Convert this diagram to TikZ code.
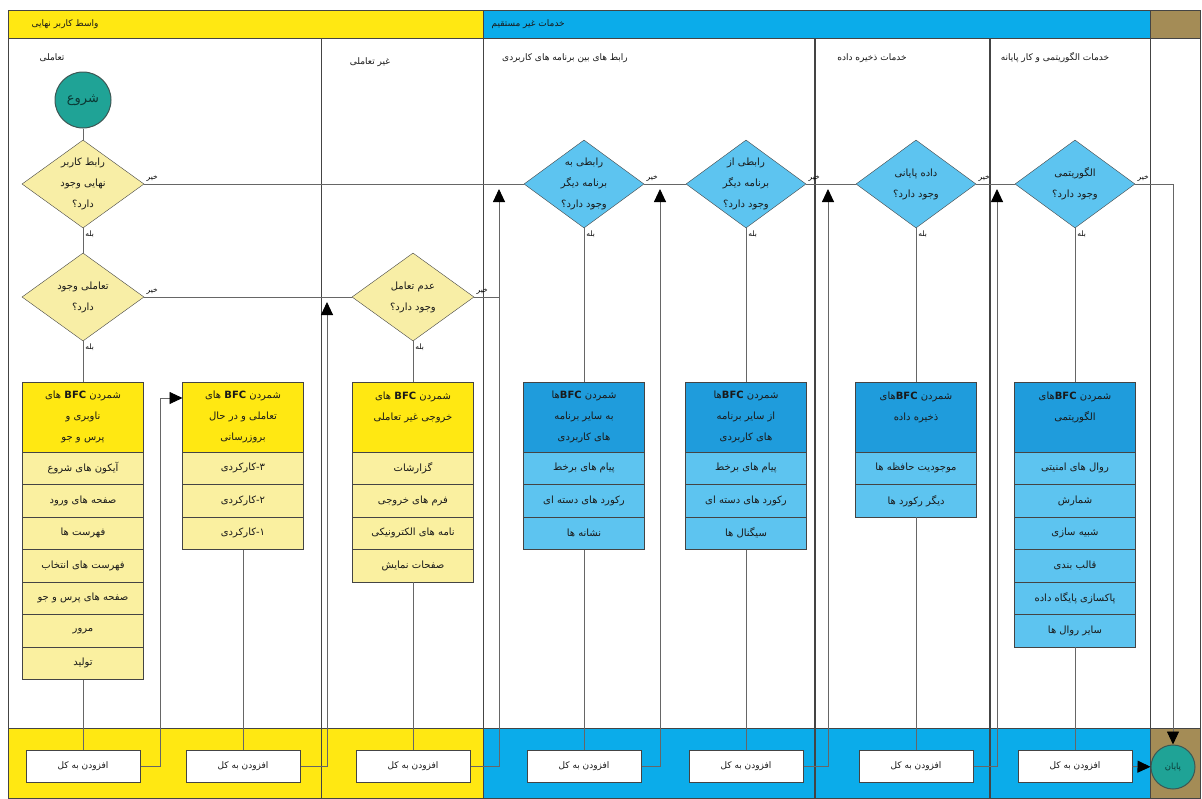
\documentclass[tikz,border=0pt]{standalone}
\usepackage{fontspec}
\newfontfamily\farsi[Script=Arabic]{DejaVu Sans}
\TeXXeTstate=1
\newcommand{\fars}[1]{\beginR #1\endR}
\newcommand{\bfc}{\beginL\textbf{BFC}\endL}
\usetikzlibrary{arrows.meta,shapes.geometric,positioning}
\definecolor{jaune}{HTML}{FFE812}
\definecolor{jaunepale}{HTML}{FAF0A0}
\definecolor{jaunelos}{HTML}{F8EEA6}
\definecolor{bleu}{HTML}{0BACEA}
\definecolor{bleutete}{HTML}{1F9CDC}
\definecolor{bleupale}{HTML}{5DC4F0}
\definecolor{brun}{HTML}{A48C56}
\definecolor{sarcelle}{HTML}{1FA396}
\definecolor{trait}{HTML}{666666}
\definecolor{bord}{HTML}{444444}

\begin{document}
\begin{tikzpicture}[x=1pt,y=-1pt]
\tikzset{lien/.style={draw=trait, line width=0.9pt},
  fleche/.style={lien, -{Triangle[length=13pt,width=12pt,color=black]}},
  cadre/.style={draw=bord, line width=1pt},
  txt/.style={align=center, text=black!90, font=\farsi\fontsize{10}{21}\selectfont},
  titre/.style={text=black!90, font=\farsi\fontsize{9}{10}\selectfont},
  losangeJ/.style={diamond, draw=bord, fill=jaunelos, minimum width=122pt, minimum height=88pt, inner sep=0},
  losangeB/.style={diamond, draw=bord, fill=bleupale, minimum width=120pt, minimum height=88pt, inner sep=0},
  teteJ/.style={txt, draw=bord, fill=jaune, minimum width=121pt, minimum height=70pt, inner sep=0, outer sep=0},
  caseJ/.style={txt, draw=bord, fill=jaunepale, minimum width=121pt, minimum height=32.5pt, inner sep=0, outer sep=0},
  teteB/.style={txt, draw=bord, fill=bleutete, minimum width=121pt, minimum height=70pt, inner sep=0, outer sep=0},
  caseB/.style={txt, draw=bord, fill=bleupale, minimum width=121pt, minimum height=32.5pt, inner sep=0, outer sep=0},
  ajout/.style={txt, draw=bord, line width=1pt, fill=white, minimum width=114pt, minimum height=32pt, inner sep=0, font=\farsi\fontsize{9}{10}\selectfont},
  rond/.style={circle, draw=bord!80!sarcelle, line width=1pt, fill=sarcelle, text=black!65!sarcelle, font=\farsi\fontsize{13}{14}\selectfont, inner sep=0},
  oui/.style={at start, anchor=north west, inner sep=2pt, font=\farsi\fontsize{7.5}{8}\selectfont},
  non/.style={at start, anchor=south west, inner sep=2pt, font=\farsi\fontsize{7.5}{8}\selectfont}}
\useasboundingbox (0,0) rectangle (1202,798);
\fill[jaune] (8,10) rectangle (483,38);
\fill[bleu] (483,10) rectangle (1150,38);
\fill[brun] (1150,10) rectangle (1200,38);
\fill[jaune] (8,728) rectangle (483,798);
\fill[bleu] (483,728) rectangle (1150,798);
\fill[brun] (1150,728) rectangle (1200,798);
\draw[cadre] (8,10) rectangle (1200,798);
\draw[cadre] (8,38) -- (1200,38);
\draw[cadre] (8,728) -- (1200,728);
\draw[cadre] (321,38) -- (321,798);
\draw[cadre] (483,10) -- (483,798);
\draw[cadre, line width=1.4pt] (815,38) -- (815,798);
\draw[cadre, line width=1.4pt] (990,38) -- (990,798);
\draw[cadre] (1150,10) -- (1150,798);

\node[titre, anchor=west] (E1) at (28,24) {\fars{واسط کاربر نهایی}};
\node[titre, anchor=west] (E2) at (488,24) {\fars{خدمات غیر مستقیم}};
\node[titre] (C1) at (52,58) {\fars{تعاملی}};
\node[titre] (C2) at (370,62) {\fars{غیر تعاملی}};
\node[titre] (C3) at (565,58) {\fars{رابط های بین برنامه های کاربردی}};
\node[titre] (C4) at (872,58) {\fars{خدمات ذخیره داده}};
\node[titre] (C5) at (1055,58) {\fars{خدمات الگوریتمی و کار پایانه}};

\node[rond, minimum size=56pt] (Deb) at (83,100) {\fars{شروع}};
\node[rond, minimum size=44pt, font=\farsi\fontsize{8.5}{9}\selectfont] (Fin) at (1173,767) {\fars{پایان}};

\node[losangeJ] (D1) at (83,184) {};
\node[txt] (T1) at (D1) {\fars{رابط کاربر}\\\fars{نهایی وجود}\\\fars{دارد؟}};
\node[losangeJ] (D2) at (83,297) {};
\node[txt] (T2) at (D2) {\fars{تعاملی وجود}\\\fars{دارد؟}};
\node[losangeJ] (D3) at (413,297) {};
\node[txt] (T3) at (D3) {\fars{عدم تعامل}\\\fars{وجود دارد؟}};
\node[losangeB] (D4) at (584,184) {};
\node[txt] (T4) at (D4) {\fars{رابطی به}\\\fars{برنامه دیگر}\\\fars{وجود دارد؟}};
\node[losangeB] (D5) at (746,184) {};
\node[txt] (T5) at (D5) {\fars{رابطی از}\\\fars{برنامه دیگر}\\\fars{وجود دارد؟}};
\node[losangeB] (D6) at (916,184) {};
\node[txt] (T6) at (D6) {\fars{داده پایانی}\\\fars{وجود دارد؟}};
\node[losangeB] (D7) at (1075,184) {};
\node[txt] (T7) at (D7) {\fars{الگوریتمی}\\\fars{وجود دارد؟}};

\node[teteJ] (H1) at (83,417) {\fars{شمردن \bfc{} های}\\\fars{ناوبری و}\\\fars{پرس و جو}};
\node[caseJ, below=0pt of H1] (B1a) {\fars{آیکون های شروع}};
\node[caseJ, below=0pt of B1a] (B1b) {\fars{صفحه های ورود}};
\node[caseJ, below=0pt of B1b] (B1c) {\fars{فهرست ها}};
\node[caseJ, below=0pt of B1c] (B1d) {\fars{فهرست های انتخاب}};
\node[caseJ, below=0pt of B1d] (B1e) {\fars{صفحه های پرس و جو}};
\node[caseJ, below=0pt of B1e] (B1f) {\fars{مرور}};
\node[caseJ, below=0pt of B1f] (B1g) {\fars{تولید}};

\node[teteJ] (H2) at (243,417) {\fars{شمردن \bfc{} های}\\\fars{تعاملی و در حال}\\\fars{بروزرسانی}};
\node[caseJ, below=0pt of H2] (B2a) {۳-کارکردی};
\node[caseJ, below=0pt of B2a] (B2b) {۲-کارکردی};
\node[caseJ, below=0pt of B2b] (B2c) {۱-کارکردی};

\node[teteJ] (H3) at (413,417) {\fars{شمردن \bfc{} های}\\\fars{خروجی غیر تعاملی}\\\mbox{}};
\node[caseJ, below=0pt of H3] (B3a) {\fars{گزارشات}};
\node[caseJ, below=0pt of B3a] (B3b) {\fars{فرم های خروجی}};
\node[caseJ, below=0pt of B3b] (B3c) {\fars{نامه های الکترونیکی}};
\node[caseJ, below=0pt of B3c] (B3d) {\fars{صفحات نمایش}};

\node[teteB] (H4) at (584,417) {\fars{شمردن \bfc ها}\\\fars{به سایر برنامه}\\\fars{های کاربردی}};
\node[caseB, below=0pt of H4] (B4a) {\fars{پیام های برخط}};
\node[caseB, below=0pt of B4a] (B4b) {\fars{رکورد های دسته ای}};
\node[caseB, below=0pt of B4b] (B4c) {\fars{نشانه ها}};

\node[teteB] (H5) at (746,417) {\fars{شمردن \bfc ها}\\\fars{از سایر برنامه}\\\fars{های کاربردی}};
\node[caseB, below=0pt of H5] (B5a) {\fars{پیام های برخط}};
\node[caseB, below=0pt of B5a] (B5b) {\fars{رکورد های دسته ای}};
\node[caseB, below=0pt of B5b] (B5c) {\fars{سیگنال ها}};

\node[teteB] (H6) at (916,417) {\fars{شمردن \bfc های}\\\fars{ذخیره داده}\\\mbox{}};
\node[caseB, below=0pt of H6] (B6a) {\fars{موجودیت حافظه ها}};
\node[caseB, below=0pt of B6a] (B6b) {\fars{دیگر رکورد ها}};

\node[teteB] (H7) at (1075,417) {\fars{شمردن \bfc های}\\\fars{الگوریتمی}\\\mbox{}};
\node[caseB, below=0pt of H7] (B7a) {\fars{روال های امنیتی}};
\node[caseB, below=0pt of B7a] (B7b) {\fars{شمارش}};
\node[caseB, below=0pt of B7b] (B7c) {\fars{شبیه سازی}};
\node[caseB, below=0pt of B7c] (B7d) {\fars{قالب بندی}};
\node[caseB, below=0pt of B7d] (B7e) {\fars{پاکسازی پایگاه داده}};
\node[caseB, below=0pt of B7e] (B7f) {\fars{سایر روال ها}};

\node[ajout] (A1) at (83,766) {\fars{افزودن به کل}};
\node[ajout] (A2) at (243,766) {\fars{افزودن به کل}};
\node[ajout] (A3) at (413,766) {\fars{افزودن به کل}};
\node[ajout] (A4) at (584,766) {\fars{افزودن به کل}};
\node[ajout] (A5) at (746,766) {\fars{افزودن به کل}};
\node[ajout] (A6) at (916,766) {\fars{افزودن به کل}};
\node[ajout] (A7) at (1075,766) {\fars{افزودن به کل}};

\coordinate (K1) at (160,398);
\coordinate (J2) at (327,302);
\coordinate (J3) at (499,189);
\coordinate (J4) at (660,189);
\coordinate (J5) at (828,189);
\coordinate (J6) at (997,189);

\draw[lien] (Deb) -- (D1);
\draw[lien] (D1) -- node[oui] (o1) {\fars{بله}} (D2);
\draw[lien] (D1.east) -- node[non] (n1) {\fars{خیر}} (D4.west);
\draw[lien] (D2) -- node[oui] (o2) {\fars{بله}} (H1);
\draw[lien] (D2.east) -- node[non] (n2) {\fars{خیر}} (D3.west);
\draw[lien] (D3) -- node[oui] (o3) {\fars{بله}} (H3);
\draw[lien] (D3.east) -- node[non] (n3) {\fars{خیر}} (D3.east -| J3);
\draw[lien] (D4) -- node[oui] (o4) {\fars{بله}} (H4);
\draw[lien] (D4.east) -- node[non] (n4) {\fars{خیر}} (D5.west);
\draw[lien] (D5) -- node[oui] (o5) {\fars{بله}} (H5);
\draw[lien] (D5.east) -- node[non] (n5) {\fars{خیر}} (D6.west);
\draw[lien] (D6) -- node[oui] (o6) {\fars{بله}} (H6);
\draw[lien] (D6.east) -- node[non] (n6) {\fars{خیر}} (D7.west);
\draw[lien] (D7) -- node[oui] (o7) {\fars{بله}} (H7);
\draw[fleche] (D7.east) -| node[non] (n7) {\fars{خیر}} (Fin.north);
\draw[lien] (B1g) -- (A1);
\draw[lien] (B2c) -- (A2);
\draw[lien] (B3d) -- (A3);
\draw[lien] (B4c) -- (A4);
\draw[lien] (B5c) -- (A5);
\draw[lien] (B6b) -- (A6);
\draw[lien] (B7f) -- (A7);
\draw[fleche] (A1.east) -| (K1) -- (K1 -| H2.west);
\draw[fleche] (A2.east) -| (J2);
\draw[fleche] (A3.east) -| (J3);
\draw[fleche] (A4.east) -| (J4);
\draw[fleche] (A5.east) -| (J5);
\draw[fleche] (A6.east) -| (J6);
\draw[fleche] (A7) -- (Fin);
\end{tikzpicture}
\end{document}
